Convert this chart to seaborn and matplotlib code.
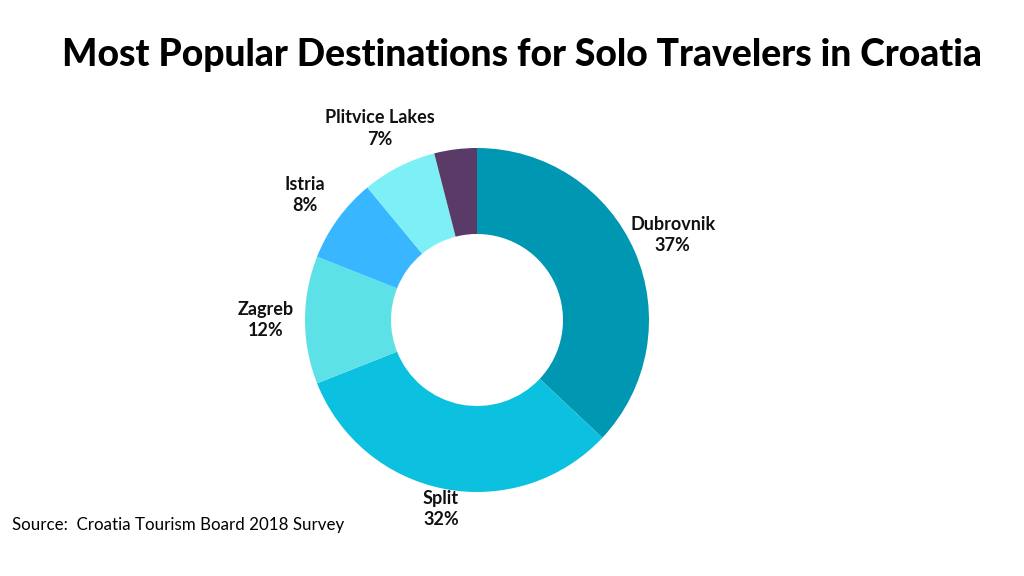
import matplotlib
matplotlib.use("Agg")
import matplotlib.pyplot as plt
import seaborn as sns
import numpy as np

labels = ["Dubrovnik", "Split", "Zagreb", "Istria", "Plitvice Lakes", ""]
values = [37, 32, 12, 8, 7, 4]
pct_labels = ["37%", "32%", "12%", "8%", "7%", ""]
colors = ["#0097B2", "#0CC0DF", "#5CE1E6", "#38B6FF", "#7DF0F5", "#5A3A66"]

sns.set_theme(style="white")
plt.rcParams['font.family'] = ['Lato', 'DejaVu Sans']

fig = plt.figure(figsize=(10.24, 5.76), dpi=100)
ax = fig.add_axes([(477 - 172) / 1024, (256 - 172) / 576, 344 / 1024, 344 / 576])
wedges, _ = ax.pie(values, colors=colors, startangle=90, counterclock=False,
                   wedgeprops=dict(width=0.5, linewidth=0))
ax.set_xlim(-1, 1)
ax.set_ylim(-1, 1)
ax.set_aspect('equal')

dists = [1.24, 1.12, 1.23, 1.24, 1.25, 0]
for w, lab, p, d in zip(wedges, labels, pct_labels, dists):
    if not lab:
        continue
    ang = np.deg2rad((w.theta1 + w.theta2) / 2)
    ax.text(d * np.cos(ang), d * np.sin(ang), f"{lab}\n{p}", ha='center', va='center',
            fontsize=13, fontweight='bold', color='#111111', linespacing=1.3, clip_on=False)

fig.text(0.51, 0.905, "Most Popular Destinations for Solo Travelers in Croatia",
         ha='center', va='center', fontsize=26.8, fontweight='black', color='black')
fig.text(0.012, 0.088, "Source:  Croatia Tourism Board 2018 Survey", ha='left', va='center',
         fontsize=12.2, color='black')
fig.savefig("out.png", dpi=100, facecolor='white')
